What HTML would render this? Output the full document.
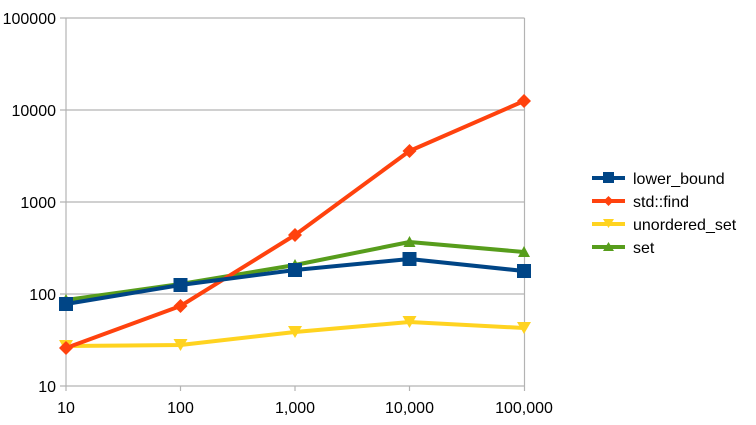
<!DOCTYPE html>
<html><head><meta charset="utf-8"><style>body{margin:0;background:#fff}svg{display:block}text{font-family:"Liberation Sans",sans-serif;font-size:16px;fill:#000}</style></head><body>
<svg width="756" height="425" viewBox="0 0 756 425">
<g stroke="#b3b3b3" stroke-width="1.2" fill="none">
<line x1="60" y1="18" x2="524.5" y2="18"/><line x1="60" y1="110" x2="524.5" y2="110"/><line x1="60" y1="202" x2="524.5" y2="202"/><line x1="60" y1="294" x2="524.5" y2="294"/><line x1="60" y1="386" x2="524.5" y2="386"/>
<line x1="66" y1="18" x2="66" y2="391"/><line x1="524.5" y1="18" x2="524.5" y2="391"/>
<line x1="180.5" y1="386" x2="180.5" y2="391"/><line x1="295" y1="386" x2="295" y2="391"/><line x1="409.5" y1="386" x2="409.5" y2="391"/>
</g>
<g text-anchor="end"><text x="56" y="24">100000</text><text x="56" y="116">10000</text><text x="56" y="208">1000</text><text x="56" y="300">100</text><text x="56" y="392">10</text></g>
<g text-anchor="middle"><text x="66" y="413">10</text><text x="180.5" y="413">100</text><text x="295" y="413">1,000</text><text x="409.5" y="413">10,000</text><text x="524" y="413">100,000</text></g>
<g fill="none" stroke-width="4" stroke-linejoin="round">
<polyline stroke="#ffd320" points="66,346 180.5,345 295,332 409.5,322 524,328"/>
<polyline stroke="#579d1c" points="66,300 180.5,284 295,265 409.5,242 524,252"/>
<polyline stroke="#ff420e" points="66,348 180.5,306 295,235 409.5,151 524,101"/>
<polyline stroke="#004586" points="66,304 180.5,285 295,270 409.5,259 524,271"/>
</g>
<g fill="#ffd320"><path d="M59,340h14l-7,12z"/><path d="M173.5,339h14l-7,12z"/><path d="M288,326h14l-7,12z"/><path d="M402.5,316h14l-7,12z"/><path d="M517,322h14l-7,12z"/></g>
<g fill="#579d1c"><path d="M60,305h12l-6,-11z"/><path d="M174.5,289h12l-6,-11z"/><path d="M289,270h12l-6,-11z"/><path d="M403.5,247h12l-6,-11z"/><path d="M518,257h12l-6,-11z"/></g>
<g fill="#ff420e"><path d="M66,341l7,7l-7,7l-7,-7z"/><path d="M180.5,299l7,7l-7,7l-7,-7z"/><path d="M295,228l7,7l-7,7l-7,-7z"/><path d="M409.5,144l7,7l-7,7l-7,-7z"/><path d="M524,94l7,7l-7,7l-7,-7z"/></g>
<g fill="#004586"><rect x="59" y="297" width="14" height="14"/><rect x="173.5" y="278" width="14" height="14"/><rect x="288" y="263" width="14" height="14"/><rect x="402.5" y="252" width="14" height="14"/><rect x="517" y="264" width="14" height="14"/></g>
<g stroke-width="4"><line x1="592" y1="178" x2="625" y2="178" stroke="#004586"/><line x1="592" y1="201" x2="625" y2="201" stroke="#ff420e"/><line x1="592" y1="224" x2="625" y2="224" stroke="#ffd320"/><line x1="592" y1="247" x2="625" y2="247" stroke="#579d1c"/></g>
<rect x="603" y="172" width="11" height="11" fill="#004586"/>
<path d="M608.5,196l5,5l-5,5l-5,-5z" fill="#ff420e"/>
<path d="M603,219h11l-5.5,9z" fill="#ffd320"/>
<path d="M603,251h11l-5.5,-9z" fill="#579d1c"/>
<text x="633" y="184">lower_bound</text><text x="633" y="207">std::find</text><text x="633" y="230">unordered_set</text><text x="633" y="253">set</text>
</svg>
</body></html>
